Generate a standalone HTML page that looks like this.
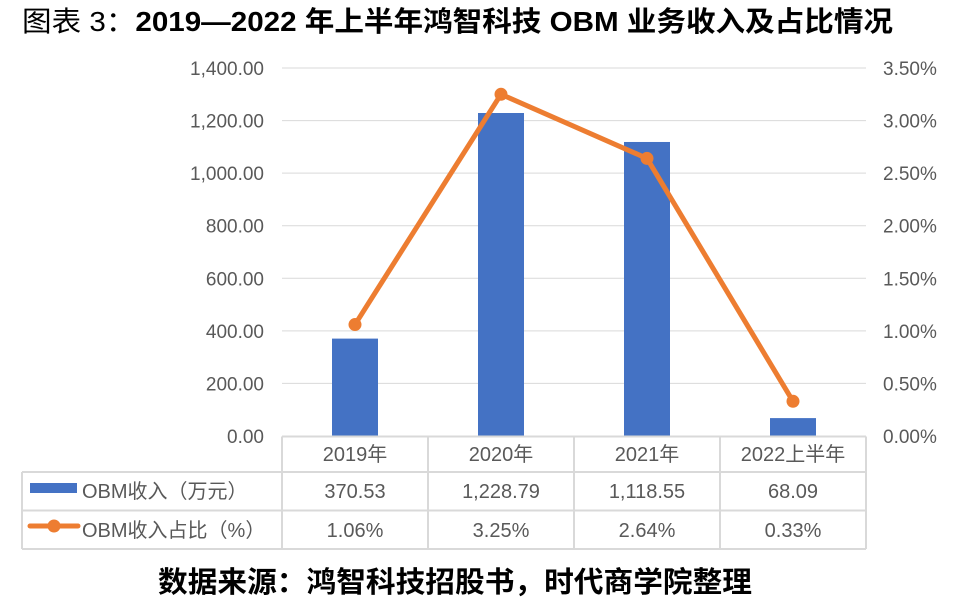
<!DOCTYPE html>
<html><head><meta charset="utf-8"><style>
body{margin:0;background:#fff;}
svg{display:block;font-family:"Liberation Sans","Noto Sans CJK SC",sans-serif;}
</style></head><body>
<svg id="c" width="958" height="607">
<text x="22" y="31" font-size="28" fill="#000" textLength="871" lengthAdjust="spacingAndGlyphs"><tspan>图表 3：</tspan><tspan font-weight="bold">2019—2022 年上半年鸿智科技 OBM 业务收入及占比情况</tspan></text>
<text x="158" y="592" font-size="29" font-weight="bold" fill="#000" textLength="594" lengthAdjust="spacingAndGlyphs">数据来源：鸿智科技招股书，时代商学院整理</text>
</svg>
<script>
const categories=["2019年","2020年","2021年","2022上半年"];
const revenue=[370.53,1228.79,1118.55,68.09];
const revenueLabels=["370.53","1,228.79","1,118.55","68.09"];
const share=[1.06,3.25,2.64,0.33];
const shareLabels=["1.06%","3.25%","2.64%","0.33%"];
const leftTicks=[0,200,400,600,800,1000,1200,1400];
const rightTicks=[0,0.5,1,1.5,2,2.5,3,3.5];
const NS="http://www.w3.org/2000/svg";
const svg=document.getElementById('c');
const x0=282,x1=866,yTop=68,yBot=436;
const colW=(x1-x0)/categories.length;
const yL=v=>yBot-(v/1400)*(yBot-yTop);
const yR=v=>yBot-(v/3.5)*(yBot-yTop);
const xC=i=>x0+colW*(i+0.5);
function mk(t,a,txt){const e=document.createElementNS(NS,t);for(const k in a)e.setAttribute(k,a[k]);if(txt!==undefined)e.textContent=txt;svg.appendChild(e);return e;}
leftTicks.forEach(v=>{
 const g=mk('line',{x1:x0,x2:x1,y1:yL(v),y2:yL(v),stroke:'#d9d9d9','stroke-width':1});
 
 
 const t=mk('text',{x:264,y:yL(v)+7,'text-anchor':'end','font-size':19,fill:'#595959'},v.toLocaleString('en-US',{minimumFractionDigits:2}));
 
 
});
rightTicks.forEach(v=>{
 const t=mk('text',{x:883,y:yR(v)+7,'font-size':19,fill:'#595959'},v.toFixed(2)+'%');
 
 
});
revenue.forEach((v,i)=>{
 const b=mk('rect',{x:xC(i)-23,y:yL(v),width:46,height:yBot-yL(v),fill:'#4472c4'});
 
 
});
const pts=share.map((v,i)=>xC(i)+','+yR(v)).join(' ');
const pl=mk('polyline',{points:pts,fill:'none',stroke:'#ed7d31','stroke-width':5,'stroke-linejoin':'round'});


share.forEach((v,i)=>{
 const c=mk('circle',{cx:xC(i),cy:yR(v),r:6.5,fill:'#ed7d31'});
 
 
});
const rows=[436.5,472,510.5,549];
const bc='#d9d9d9';
function L(a,b,c,d,n){const l=mk('line',{x1:a,y1:b,x2:c,y2:d,stroke:bc,'stroke-width':2});}
L(x0,rows[0],x1,rows[0],'table-border');
L(22,rows[1],x1,rows[1],'table-border');
L(22,rows[2],x1,rows[2],'table-border');
L(22,rows[3],x1,rows[3],'table-border');
L(22,rows[1],22,rows[3],'table-border');
for(let i=0;i<=categories.length;i++)L(x0+colW*i,rows[0],x0+colW*i,rows[3],'table-border');
categories.forEach((c,i)=>{
 const t=mk('text',{x:xC(i),y:461,'text-anchor':'middle','font-size':20,fill:'#595959'},c);
 
 
 const a=mk('text',{x:xC(i),y:498,'text-anchor':'middle','font-size':20,fill:'#595959'},revenueLabels[i]);
 
 
 const b=mk('text',{x:xC(i),y:537,'text-anchor':'middle','font-size':20,fill:'#595959'},shareLabels[i]);
 
 
});
const lk1=mk('rect',{x:30,y:483,width:47,height:10,fill:'#4472c4'});


const lt1=mk('text',{x:82,y:498,'font-size':20,fill:'#595959'},'OBM收入（万元）');


const lk2=mk('line',{x1:30,y1:526,x2:78,y2:526,stroke:'#ed7d31','stroke-width':5,'stroke-linecap':'round'});


const lk3=mk('circle',{cx:54,cy:526,r:6.5,fill:'#ed7d31'});


const lt2=mk('text',{x:82,y:537,'font-size':20,fill:'#595959'},'OBM收入占比（%）');


</script>
</body></html>
